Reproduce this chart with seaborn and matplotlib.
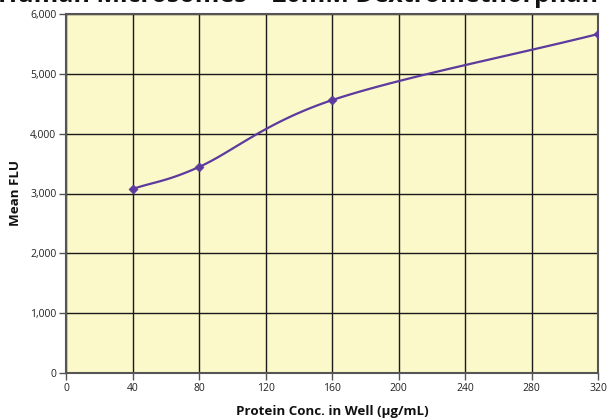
import numpy as np
import pandas as pd
import matplotlib
matplotlib.use("Agg")
import matplotlib.pyplot as plt
import seaborn as sns

protein_conc = [40, 80, 160, 320]
mean_flu = [3075, 3443, 4560, 5665]
x_ticks = [0, 40, 80, 120, 160, 200, 240, 280, 320]
y_ticks = [0, 1000, 2000, 3000, 4000, 5000, 6000]
title = "Human Microsomes \u2013 20mM Dextromethorphan"

sns.set_theme(style="white")
plt.rcParams['font.family'] = ['Open Sans', 'DejaVu Sans']

df = pd.DataFrame({"x": protein_conc, "y": mean_flu})

# smooth (Catmull-Rom) rendering of the connecting line
def catmull(xs, ys, n=40):
    P = np.column_stack([xs, ys]).astype(float)
    P = np.vstack([2 * P[0] - P[1], P, 2 * P[-1] - P[-2]])
    out = []
    for i in range(1, len(P) - 2):
        p0, p1, p2, p3 = P[i - 1], P[i], P[i + 1], P[i + 2]
        t = np.linspace(0, 1, n)[:, None]
        seg = 0.5 * ((2 * p1) + (-p0 + p2) * t + (2 * p0 - 5 * p1 + 4 * p2 - p3) * t ** 2
                     + (-p0 + 3 * p1 - 3 * p2 + p3) * t ** 3)
        out.append(seg)
    return np.vstack(out)

curve = catmull(protein_conc, mean_flu)
cdf = pd.DataFrame({"x": curve[:, 0], "y": curve[:, 1]})

fig = plt.figure(figsize=(6.09, 4.18), dpi=100)
ax = fig.add_axes([66 / 609, 45 / 418, 532 / 609, 359 / 418])
ax.set_facecolor("#FBF8C9")

purple = "#5C3A9E"
sns.lineplot(data=cdf, x="x", y="y", ax=ax, color=purple, lw=1.6, sort=False, estimator=None)
sns.scatterplot(data=df, x="x", y="y", ax=ax, color=purple, marker="D", s=22, edgecolor=purple, zorder=5)

ax.set_xlim(0, 320)
ax.set_ylim(0, 6000)
ax.set_xticks(x_ticks)
ax.set_yticks(y_ticks)
ax.set_xticklabels([str(v) for v in x_ticks])
ax.set_yticklabels([f"{v:,}" for v in y_ticks])
ax.grid(True, color="#1a1a1a", lw=1)
ax.set_axisbelow(True)
for s in ax.spines.values():
    s.set_color("#555555")
    s.set_linewidth(1.5)
ax.tick_params(axis="both", direction="out", length=5, width=1, color="#555555",
               labelsize=7.5, labelcolor="#222222", pad=2, bottom=True, left=True)
ax.set_xlabel("Protein Conc. in Well (\u00b5g/mL)", fontsize=9.6, fontweight="bold", color="#111111", labelpad=8)
ax.set_ylabel("Mean FLU", fontsize=9.6, fontweight="bold", color="#111111", labelpad=6)

fig.text(0.49, 1 - 2 / 418, title, ha="center", va="baseline", fontsize=18, fontweight="bold", color="#111111")

fig.savefig("out.png", dpi=100)
